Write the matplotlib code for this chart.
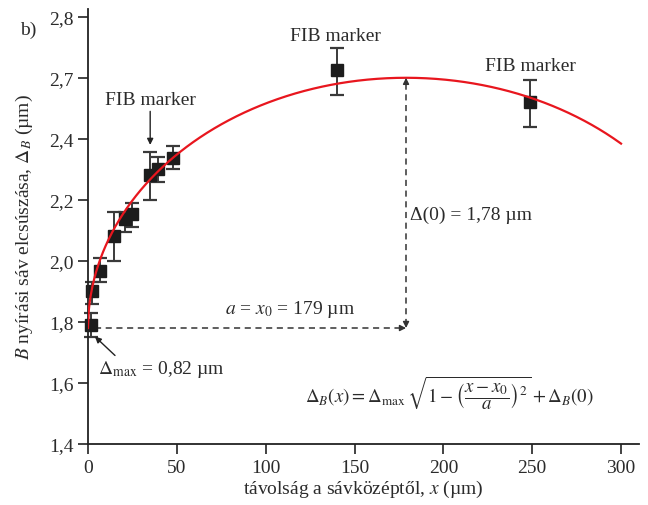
import matplotlib
matplotlib.use('Agg')
from matplotlib import pyplot as plt
import numpy as np

plt.rcParams['font.family'] = ['Liberation Serif', 'DejaVu Serif']
plt.rcParams['mathtext.fontset'] = 'stix'

# measured points (distance from band centre, um) and slip (um)
x_pts = [1.5, 2.0, 6.8, 14.8, 20.8, 24.6, 34.9, 39.6, 48.0, 140.0, 249.0]
y_pts = [1.79, 1.90, 1.967, 2.081, 2.138, 2.154, 2.282, 2.30, 2.337, 2.624, 2.52]
y_lo = [1.75, 1.86, 1.93, 2.00, 2.096, 2.11, 2.20, 2.26, 2.30, 2.542, 2.438]
y_hi = [1.83, 1.93, 2.01, 2.16, 2.16, 2.19, 2.358, 2.34, 2.377, 2.697, 2.594]

# fit parameters written on the chart
d_max = 0.82
d_0 = 1.78
x0 = 179.0
a = 179.0

yticks = [1.4, 1.6, 1.8, 2.0, 2.2, 2.4, 2.6, 2.8]
ytick_labels = ['1,4', '1,6', '1,8', '2,0', '2,2', '2,4', '2,7', '2,8']
xticks = [0, 50, 100, 150, 200, 250, 300]

txt = '#2b2b2b'


def fit(x):
    return d_max * np.sqrt(np.clip(1 - ((x - x0) / a) ** 2, 0, None)) + d_0


fig = plt.figure(figsize=(6.48, 5.06), dpi=100)
ax = fig.add_axes([0.1358, 0.1206, 0.850, 0.860])

xs = np.linspace(0, 300, 600)
ax.plot(xs, fit(xs), color='#e8161e', lw=1.6, zorder=3)

err = [np.array(y_pts) - np.array(y_lo), np.array(y_hi) - np.array(y_pts)]
ax.errorbar(x_pts, y_pts, yerr=err, fmt='s', color='#1c1c1c', ms=9,
            ecolor='#3a3a3a', elinewidth=1.4, capsize=4.7, capthick=1.6,
            zorder=2, clip_on=False)

# dashed guides
ax.plot([4, x0 - 1.5], [d_0, d_0], ls=(0, (4, 3)), color='#333333', lw=1.1)
ax.plot([x0, x0], [d_0 + 0.01, d_0 + d_max - 0.01], ls=(0, (4, 3)),
        color='#333333', lw=1.1)
hp = dict(arrowstyle='-|>', color='#333333', lw=1.0, mutation_scale=9,
          shrinkA=0, shrinkB=0)
ax.annotate('', xy=(x0, d_0), xytext=(x0 - 3, d_0), arrowprops=hp)
ax.annotate('', xy=(x0, d_0), xytext=(x0, d_0 + 0.02), arrowprops=hp)
ax.annotate('', xy=(x0, d_0 + d_max), xytext=(x0, d_0 + d_max - 0.02),
            arrowprops=hp)

# labels on the plot
fs = 14
ax.text(35, 2.53, 'FIB marker', ha='center', va='center', fontsize=fs, color=txt)
ax.annotate('', xy=(35, 2.38), xytext=(35, 2.49),
            arrowprops=dict(arrowstyle='-|>', color='#222222', lw=1.0,
                            mutation_scale=9, shrinkA=0, shrinkB=0))
ax.text(139, 2.738, 'FIB marker', ha='center', va='center', fontsize=fs, color=txt)
ax.text(249, 2.64, 'FIB marker', ha='center', va='center', fontsize=fs, color=txt)

ax.text(77, 1.843, r'$a$ = $x_0$ = 179 µm', ha='left', va='center',
        fontsize=fs, color=txt)
ax.text(181, 2.154, 'Δ(0) = 1,78 µm', ha='left', va='center',
        fontsize=fs, color=txt)
ax.text(5.5, 1.646, r'$\Delta_{\rm max}$ = 0,82 µm', ha='left', va='center',
        fontsize=fs, color=txt)
ax.annotate('', xy=(3.9, 1.752), xytext=(15.2, 1.69),
            arrowprops=dict(arrowstyle='-|>', color='#222222', lw=1.0,
                            mutation_scale=9, shrinkA=0, shrinkB=0))
ax.text(122, 1.57,
        r'$\Delta_B(x) = \Delta_{\rm max}\,\sqrt{1-\left(\dfrac{x-x_0}{a}\right)^2}+\Delta_B(0)$',
        ha='left', va='center', fontsize=13.6, color=txt)

fig.text(28 / 648, 1 - 30 / 506, 'b)', ha='center', va='center',
         fontsize=fs, color=txt)

ax.set_xlim(0, 310)
ax.set_ylim(1.4, 2.826)
ax.set_xticks(xticks)
ax.set_yticks(yticks)
ax.set_yticklabels(ytick_labels)
ax.tick_params(direction='out', length=7, width=1.2, labelsize=fs,
               colors='#222222', labelcolor=txt)
for s in ['top', 'right']:
    ax.spines[s].set_visible(False)
for s in ['left', 'bottom']:
    ax.spines[s].set_linewidth(1.3)
    ax.spines[s].set_color('#222222')

ax.set_xlabel(r'távolság a sávközéptől, $x$ (µm)', fontsize=fs, color=txt,
              labelpad=2)
ax.set_ylabel(r'$B$ nyírási sáv elcsúszása, $\Delta_B$ (µm)', fontsize=fs,
              color=txt, labelpad=10)

fig.savefig('out.png', dpi=100)
